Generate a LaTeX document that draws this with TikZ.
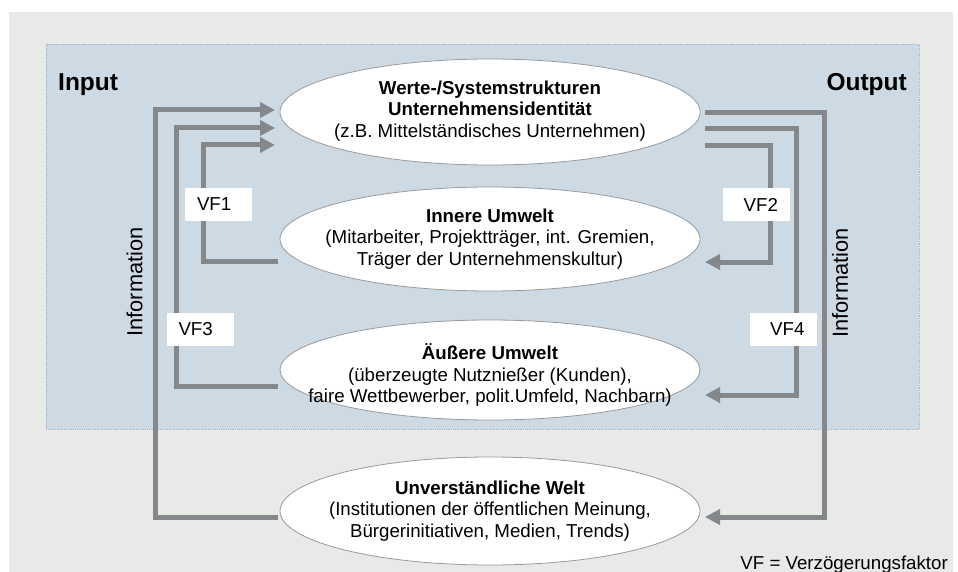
\documentclass[tikz,border=0pt]{standalone}
\usepackage{fontspec}
\setmainfont{Liberation Sans}
\usetikzlibrary{arrows.meta,shapes.geometric}
\definecolor{bggray}{HTML}{E9E9E7}
\definecolor{boxblue}{HTML}{CDD9E3}
\definecolor{boxedge}{HTML}{9FB6CC}
\definecolor{flowgray}{HTML}{85888B}
\definecolor{elledge}{HTML}{9A9A9A}
\begin{document}
\begin{tikzpicture}[x=1pt,y=-1pt,
  ell/.style={ellipse, draw=elledge, line width=0.8pt, fill=white, minimum width=420pt, inner sep=0pt, outer sep=0pt},
  etext/.style={align=center, font=\fontsize{18.7}{21.5}\selectfont, inner sep=0pt},
  flow/.style={draw=flowgray, line width=5pt, -{Triangle[length=15pt,width=15pt]}},
  vfbox/.style={fill=white, minimum height=33pt, text width=43pt, inner xsep=12pt, inner ysep=0pt, font=\fontsize{18.7}{20}\selectfont},
  infotext/.style={rotate=90, font=\fontsize{21.8}{24}\selectfont, inner sep=0pt},
  headtext/.style={font=\bfseries\fontsize{24.5}{28}\selectfont, inner sep=0pt}]
\useasboundingbox (0,0) rectangle (958,572);
\fill[white] (0,0) rectangle (958,572);
\fill[bggray] (9,12) rectangle (953,572);
\draw[boxedge, densely dotted, line width=0.8pt, fill=boxblue] (46,44) rectangle (919,429);

\node[headtext, anchor=base west] (inp) at (58,91) {Input};
\node[headtext, anchor=base east] (outp) at (907,91) {Output};

\node[ell, minimum height=106pt] (e1) at (490,112) {};
\node[ell, minimum height=104pt] (e2) at (490,239) {};
\node[ell, minimum height=100pt] (e3) at (490,370) {};
\node[ell, minimum height=108pt] (e4) at (490,511) {};

\node[etext] (t1) at ([shift={(0,-1)}]e1.center) {\textbf{Werte-/Systemstrukturen}\\\textbf{Unternehmensidentität}\\(z.B. Mittelständisches Unternehmen)};
\node[etext] (t2) at (e2.center) {\textbf{Innere Umwelt}\\(Mitarbeiter, Projektträger, int. Gremien,\\Träger der Unternehmenskultur)};
\node[etext] (t3) at ([shift={(0,5)}]e3.center) {\textbf{Äußere Umwelt}\\(überzeugte Nutznießer (Kunden),\\faire Wettbewerber, polit.Umfeld, Nachbarn)};
\node[etext] (t4) at (e4.center) {\textbf{Unverständliche Welt}\\(Institutionen der öffentlichen Meinung,\\Bürgerinitiativen, Medien, Trends)};

% left side: feedback into e1
\draw[flow] ([shift={(-2,6)}]e4.west) -- (155,517) -- (155,110) -- ([shift={(-5,-2)}]e1.west);
\draw[flow] ([shift={(-2,16)}]e3.west) -- (176,386) -- (176,128) -- ([shift={(-5,16)}]e1.west);
\draw[flow] ([shift={(-2,22)}]e2.west) -- (203,261) -- (203,145) -- ([shift={(-5,33)}]e1.west);
% right side: output from e1
\draw[flow] ([shift={(5,1)}]e1.east) -- (824,113) -- (824,517) -- ([shift={(5,6)}]e4.east);
\draw[flow] ([shift={(5,17)}]e1.east) -- (796,129) -- (796,395) -- ([shift={(5,25)}]e3.east);
\draw[flow] ([shift={(5,34)}]e1.east) -- (770,146) -- (770,262) -- ([shift={(5,23)}]e2.east);

\node[vfbox, align=left] (vf1) at (218.5,204.5) {VF1};
\node[vfbox, align=right] (vf2) at (756.5,204.5) {VF2};
\node[vfbox, align=left] (vf3) at (200,329) {VF3};
\node[vfbox, align=right] (vf4) at (783,329) {VF4};

\node[infotext] (infoL) at (134.5,282) {Information};
\node[infotext] (infoR) at (840,283) {Information};

\node[font=\fontsize{18.7}{21}\selectfont, anchor=base east, inner sep=0pt] (leg) at (948,569) {VF = Verzögerungsfaktor};
\end{tikzpicture}
\end{document}
